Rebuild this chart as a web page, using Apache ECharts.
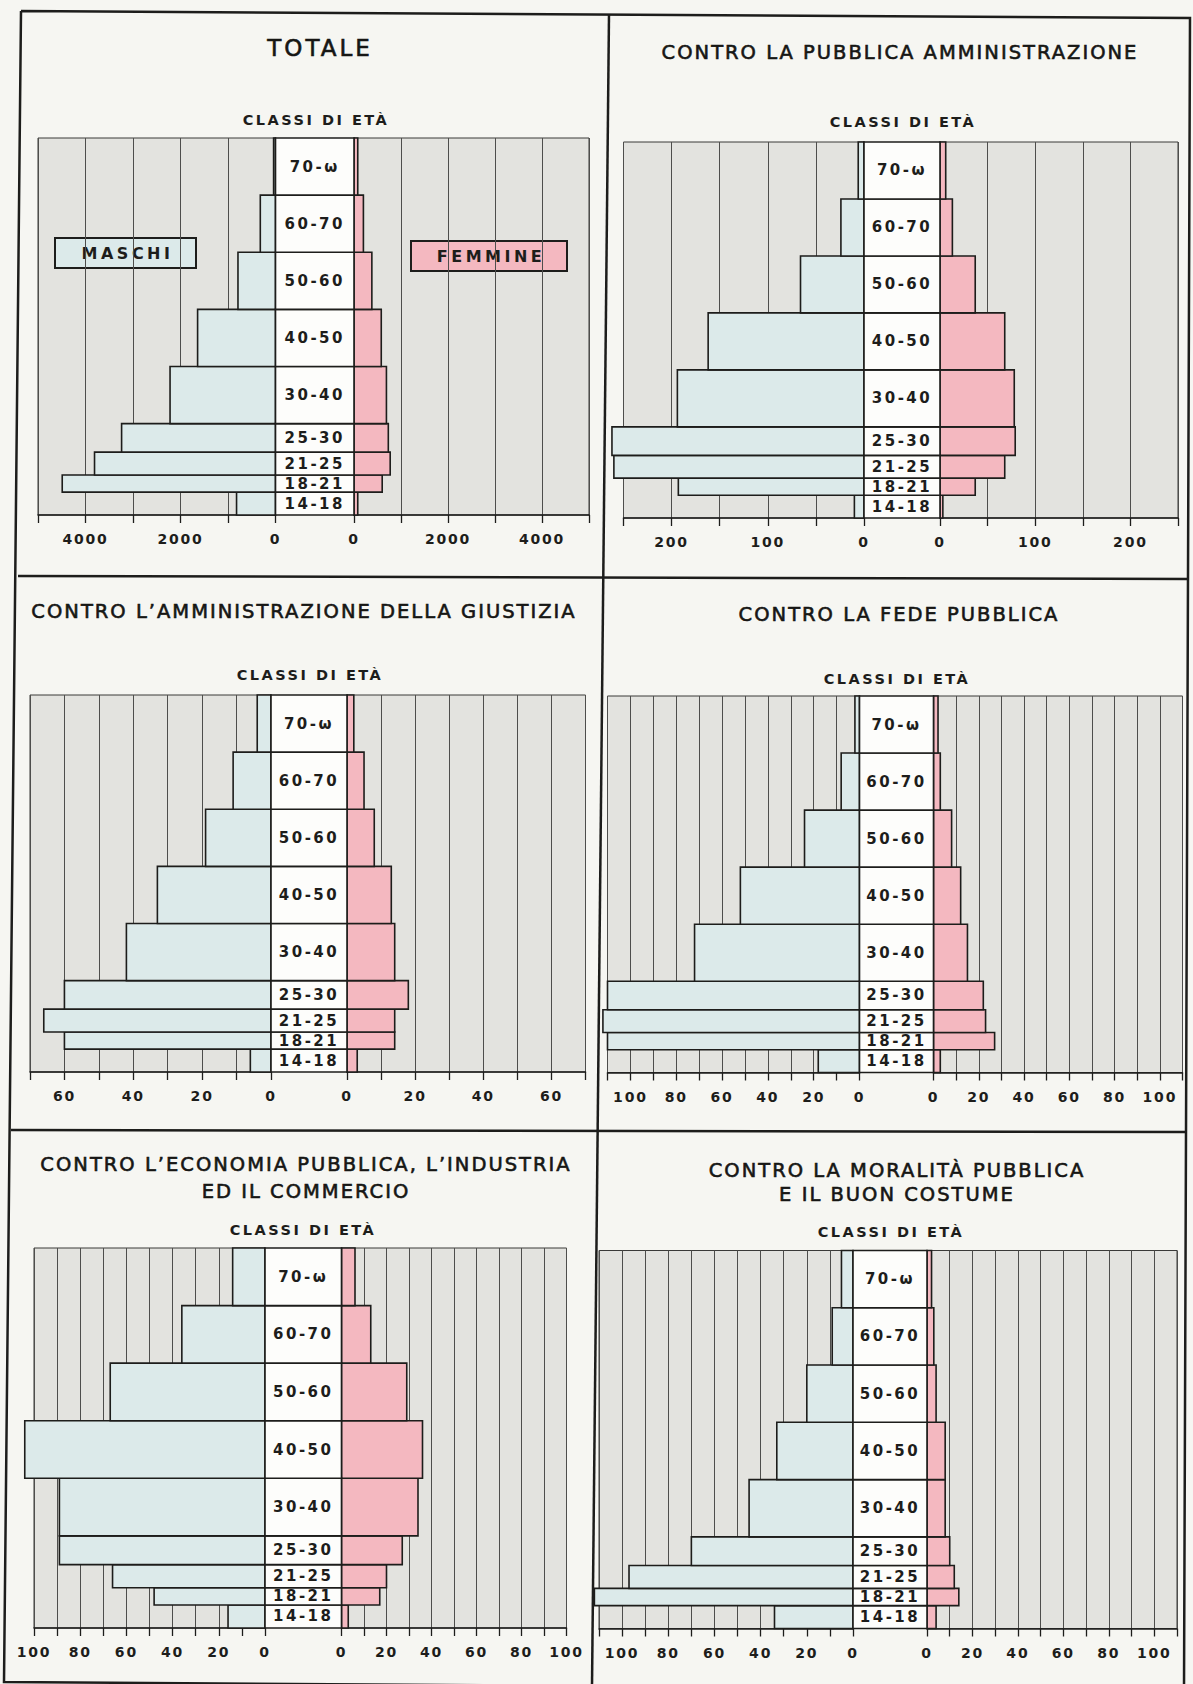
<!DOCTYPE html>
<html>
<head>
<meta charset="utf-8">
<title>Classi di età per sesso</title>
<script src="https://cdn.jsdelivr.net/npm/echarts@6/dist/echarts.min.js"></script>
<style>
html, body { margin: 0; padding: 0; background: #f6f6f2; }
#chart { width: 1193px; height: 1684px; }
</style>
</head>
<body>
<div id="chart"></div>
<script>
// classi di eta (dal basso verso l'alto) e loro limiti in anni
const ageClasses = ['14-18', '18-21', '21-25', '25-30', '30-40', '40-50', '50-60', '60-70', '70-ω'];
const ageLimits = [14, 18, 21, 25, 30, 40, 50, 60, 70, 80];

const titles = [
  'TOTALE',
  'CONTRO LA PUBBLICA AMMINISTRAZIONE',
  'CONTRO L’AMMINISTRAZIONE DELLA GIUSTIZIA',
  'CONTRO LA FEDE PUBBLICA',
  'CONTRO L’ECONOMIA PUBBLICA, L’INDUSTRIA\nED IL COMMERCIO',
  'CONTRO LA MORALITÀ PUBBLICA\nE IL BUON COSTUME'
];

// valori, stesso ordine di ageClasses
const totaleMaschi = [820, 4490, 3810, 3240, 2220, 1640, 790, 320, 40];
const totaleFemmine = [80, 600, 770, 730, 690, 580, 380, 200, 80];
const ammPubblicaMaschi = [10, 193, 260, 262, 194, 162, 66, 24, 6];
const ammPubblicaFemmine = [3, 37, 68, 79, 78, 68, 37, 13, 6];
const giustiziaMaschi = [6, 60, 66, 60, 42, 33, 19, 11, 4];
const giustiziaFemmine = [3, 14, 14, 18, 14, 13, 8, 5, 2];
const fedeMaschi = [18, 110, 112, 110, 72, 52, 24, 8, 2];
const fedeFemmine = [3, 27, 23, 22, 15, 12, 8, 3, 2];
const economiaMaschi = [16, 48, 66, 89, 89, 104, 67, 36, 14];
const economiaFemmine = [3, 17, 20, 27, 34, 36, 29, 13, 6];
const moralitaMaschi = [34, 112, 97, 70, 45, 33, 20, 9, 5];
const moralitaFemmine = [4, 14, 12, 10, 8, 8, 4, 3, 2];

// scale degli assi
const axisMax = [5000, 250, 70, 110, 100, 110];
const axisStep = [1000, 50, 10, 10, 10, 10];
const labelStep = [2000, 100, 20, 20, 20, 20];

const maschi = [totaleMaschi, ammPubblicaMaschi, giustiziaMaschi, fedeMaschi, economiaMaschi, moralitaMaschi];
const femmine = [totaleFemmine, ammPubblicaFemmine, giustiziaFemmine, fedeFemmine, economiaFemmine, moralitaFemmine];

const ink = '#1d1d1b';
const maleColor = '#dceaea';
const femaleColor = '#f4b8c0';
const plotColor = '#e3e3df';
const font = '"DejaVu Sans", sans-serif';

// posizione dei sei riquadri nella pagina
const frames = [
  { top: 138, height: 377, left: [38, 237.5], mid: [275.5, 78.5], right: [354, 235], title: [320, 48], classi: [316, 120] },
  { top: 142, height: 376, left: [623.5, 240.5], mid: [864, 76], right: [940, 238], title: [900, 52], classi: [903, 122] },
  { top: 695, height: 377, left: [30, 241], mid: [271, 76], right: [347, 238.5], title: [304, 611], classi: [310, 675] },
  { top: 696, height: 376.5, left: [607.5, 252], mid: [859.5, 74], right: [933.5, 249], title: [899, 614], classi: [897, 679] },
  { top: 1248, height: 380, left: [34, 231], mid: [265, 76.5], right: [341.5, 225], title: [306, 1177.5], classi: [303, 1230] },
  { top: 1250.5, height: 378, left: [599, 254], mid: [853, 74], right: [927, 250], title: [897, 1182.5], classi: [891, 1232] }
];

function renderBar (params, api) {
  const a = api.coord([0, api.value(2)]);
  const b = api.coord([api.value(0), api.value(1)]);
  return {
    type: 'rect',
    shape: { x: Math.min(a[0], b[0]), y: a[1], width: Math.abs(b[0] - a[0]), height: b[1] - a[1] },
    style: { fill: api.visual('color'), stroke: ink, lineWidth: 1.6 }
  };
}

function renderClass (params, api) {
  const a = api.coord([0, api.value(2)]);
  const b = api.coord([1, api.value(1)]);
  return {
    type: 'rect',
    shape: { x: a[0], y: a[1], width: b[0] - a[0], height: b[1] - a[1] },
    style: { fill: '#fdfdfb', stroke: ink, lineWidth: 1.6 },
    textContent: { style: { text: ageClasses[params.dataIndex], font: 'bold 15px ' + font, fill: ink } },
    textConfig: { position: 'inside' }
  };
}

const grid = [], xAxis = [], yAxis = [], series = [], title = [], graphic = [];

frames.forEach((f, k) => {
  const g = 3 * k;
  const sideAxis = (inverse) => ({
    type: 'value',
    inverse: inverse,
    min: 0,
    max: axisMax[k],
    interval: axisStep[k],
    axisLine: { show: true, onZero: false, lineStyle: { color: ink, width: 1.5 } },
    axisTick: { show: true, length: 8, lineStyle: { color: ink, width: 1.3 } },
    axisLabel: {
      margin: 17,
      showMinLabel: true,
      color: ink,
      fontFamily: 'DejaVu Sans',
      fontWeight: 'bold',
      fontSize: 14,
      formatter: v => (v % labelStep[k] === 0 ? String(v) : '')
    },
    splitLine: { show: true, lineStyle: { color: '#4e4e4c', width: 1 } }
  });

  grid.push(
    { left: f.left[0], width: f.left[1], top: f.top, height: f.height, show: true, backgroundColor: plotColor, borderColor: '#3a3a38', borderWidth: 1 },
    { left: f.mid[0], width: f.mid[1], top: f.top, height: f.height },
    { left: f.right[0], width: f.right[1], top: f.top, height: f.height, show: true, backgroundColor: plotColor, borderColor: '#3a3a38', borderWidth: 1 }
  );
  xAxis.push(
    Object.assign({ gridIndex: g }, sideAxis(true)),
    { gridIndex: g + 1, type: 'value', min: 0, max: 1, show: false },
    Object.assign({ gridIndex: g + 2 }, sideAxis(false))
  );
  for (let i = 0; i < 3; i++) {
    yAxis.push({ gridIndex: g + i, type: 'value', min: ageLimits[0], max: ageLimits[ageLimits.length - 1], show: false });
  }

  series.push(
    {
      name: 'MASCHI',
      type: 'custom',
      xAxisIndex: g,
      yAxisIndex: g,
      silent: true,
      clip: false,
      itemStyle: { color: maleColor },
      encode: { x: 0, y: [1, 2] },
      renderItem: renderBar,
      data: maschi[k].map((v, i) => [v, ageLimits[i], ageLimits[i + 1]])
    },
    {
      name: 'CLASSI DI ETÀ',
      type: 'custom',
      xAxisIndex: g + 1,
      yAxisIndex: g + 1,
      silent: true,
      z: 3,
      encode: { x: 0, y: [1, 2] },
      renderItem: renderClass,
      data: ageClasses.map((c, i) => [0, ageLimits[i], ageLimits[i + 1]])
    },
    {
      name: 'FEMMINE',
      type: 'custom',
      xAxisIndex: g + 2,
      yAxisIndex: g + 2,
      silent: true,
      clip: false,
      itemStyle: { color: femaleColor },
      encode: { x: 0, y: [1, 2] },
      renderItem: renderBar,
      data: femmine[k].map((v, i) => [v, ageLimits[i], ageLimits[i + 1]])
    }
  );

  title.push({
    text: titles[k],
    left: f.title[0],
    top: f.title[1],
    padding: 0,
    textAlign: 'center',
    textVerticalAlign: 'middle',
    textStyle: {
      color: '#161614',
      fontFamily: 'DejaVu Sans',
      fontWeight: 'normal',
      fontSize: k === 0 ? 23 : 19.5,
      lineHeight: k === 4 ? 27 : 24,
      textBorderColor: '#161614',
      textBorderWidth: 0.6
    }
  });
  graphic.push({
    type: 'text',
    x: f.classi[0],
    y: f.classi[1],
    style: { text: 'CLASSI DI ETÀ', font: 'bold 14.5px ' + font, fill: ink, align: 'center', verticalAlign: 'middle', textAlign: 'center', textVerticalAlign: 'middle' }
  });
});

// leggenda del riquadro TOTALE
const legendBox = (x, y, w, label, color) => ({
  type: 'group',
  x: x,
  y: y,
  z: 50,
  children: [
    { type: 'rect', shape: { x: 0, y: 0, width: w, height: 30 }, style: { fill: color, stroke: ink, lineWidth: 2 } },
    { type: 'text', x: w / 2 + 2, y: 15, style: { text: label, font: 'bold 16px ' + font, fill: ink, align: 'center', verticalAlign: 'middle', textAlign: 'center', textVerticalAlign: 'middle' } }
  ]
});
graphic.push(legendBox(55, 238, 141, 'MASCHI', maleColor), legendBox(411, 241, 156, 'FEMMINE', femaleColor));

// cornice e divisori della tavola
const frameLine = (pts) => ({ type: 'polyline', z: 60, shape: { points: pts }, style: { stroke: ink, lineWidth: 2.5, fill: null } });
graphic.push(
  frameLine([[21, 11], [1190, 18], [1184, 1690], [4, 1682], [21, 11]]),
  frameLine([[609, 14], [592, 1686]]),
  frameLine([[18, 576], [1189, 579]]),
  frameLine([[11, 1130], [1186, 1132]])
);

const chart = echarts.init(document.getElementById('chart'), null, { renderer: 'svg' });

// spaziatura delle lettere come nel lettering originale
function tracking (t) {
  if (ageClasses.indexOf(t) >= 0) return 2.5;
  if (/^\d+$/.test(t)) return 1.8;
  if (t === 'MASCHI' || t === 'FEMMINE') return 3.5;
  if (t === 'TOTALE') return 3;
  if (t === 'CLASSI DI ETÀ') return 2.5;
  return 2;
}
function applyTracking () {
  document.querySelectorAll('#chart svg text').forEach(el => {
    el.setAttribute('letter-spacing', tracking(el.textContent.trim()) + 'px');
  });
}
chart.on('finished', applyTracking);

chart.setOption({
  animation: false,
  backgroundColor: '#f6f6f2',
  title: title,
  grid: grid,
  xAxis: xAxis,
  yAxis: yAxis,
  series: series,
  graphic: { elements: graphic }
});
setTimeout(applyTracking, 50);
</script>
</body>
</html>
